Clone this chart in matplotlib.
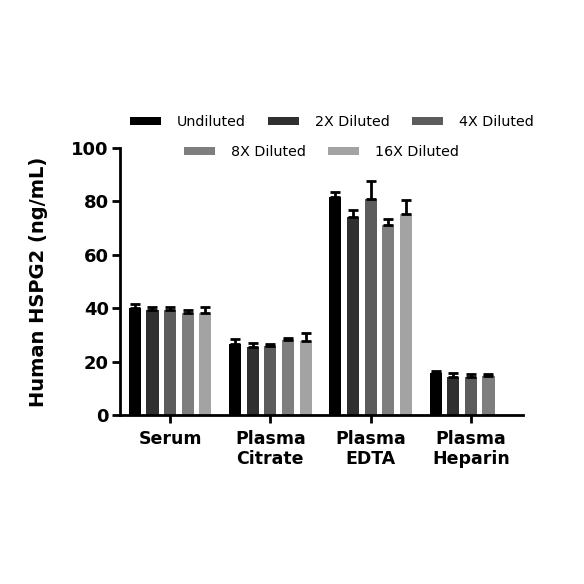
import numpy as np
import matplotlib
matplotlib.use("Agg")
import matplotlib.pyplot as plt

# sample groups and dilution series
groups = ["Serum", "Plasma\nCitrate", "Plasma\nEDTA", "Plasma\nHeparin"]
dilutions = ["Undiluted", "2X Diluted", "4X Diluted", "8X Diluted", "16X Diluted"]
colors = ["#000000", "#303030", "#5c5c5c", "#7e7e7e", "#a3a3a3"]

# mean values (ng/mL), one list per dilution, order follows groups
undiluted = [40.1, 26.7, 81.7, 15.6]
diluted_2x = [39.3, 25.5, 74.2, 14.2]
diluted_4x = [39.3, 25.9, 80.8, 14.2]
diluted_8x = [38.4, 28.0, 71.0, 14.6]
diluted_16x = [38.2, 27.7, 75.3, np.nan]

# upper error (SD) per dilution
err_undiluted = [1.5, 1.6, 1.7, 0.9]
err_2x = [1.0, 1.6, 2.6, 1.5]
err_4x = [1.0, 0.6, 7.0, 1.3]
err_8x = [0.9, 0.7, 2.4, 0.9]
err_16x = [2.1, 3.1, 5.2, np.nan]

values = [undiluted, diluted_2x, diluted_4x, diluted_8x, diluted_16x]
errors = [err_undiluted, err_2x, err_4x, err_8x, err_16x]

plt.rcParams["font.family"] = "DejaVu Sans"

fig = plt.figure(figsize=(5.84, 5.84), dpi=100)
ax = fig.add_axes([0.2055, 0.2894, 0.69, 0.457])

x = np.arange(len(groups))
step = 0.176
width = 0.12
handles = []
for i, (vals, errs) in enumerate(zip(values, errors)):
    pos = x + (i - 2) * step
    vals = np.asarray(vals, dtype=float)
    errs = np.asarray(errs, dtype=float)
    ok = ~np.isnan(vals)
    b = ax.bar(pos[ok], vals[ok], width, color=colors[i], label=dilutions[i], zorder=2)
    ax.errorbar(pos[ok], vals[ok], yerr=[np.zeros(ok.sum()), errs[ok]], fmt="none",
                ecolor="black", elinewidth=2, capsize=3.5, capthick=2, zorder=3)
    handles.append(b)

ax.set_xlim(-0.5, 3.52)
ax.set_ylim(0, 100)
ax.set_yticks([0, 20, 40, 60, 80, 100])
ax.set_xticks(x)
ax.set_xticklabels(groups, fontsize=12.5, fontweight="bold", linespacing=1.15)
for lab in ax.get_yticklabels():
    lab.set_fontsize(13)
    lab.set_fontweight("bold")
ax.set_ylabel("Human HSPG2 (ng/mL)", fontsize=14, fontweight="bold", labelpad=17)

for side in ["top", "right"]:
    ax.spines[side].set_visible(False)
for side in ["left", "bottom"]:
    ax.spines[side].set_linewidth(2)
ax.tick_params(axis="both", width=2, length=6, direction="out", pad=2)
ax.tick_params(axis="x", pad=5)

leg_kw = dict(frameon=False, fontsize=10.3, handlelength=2.2, handleheight=0.45,
              handletextpad=1.1, columnspacing=1.55)
leg1 = fig.legend(handles[:3], dilutions[:3], ncol=3, loc="center",
                  bbox_to_anchor=(0.568, 0.791), **leg_kw)
leg2 = fig.legend(handles[3:], dilutions[3:], ncol=2, loc="center",
                  bbox_to_anchor=(0.55, 0.740), **leg_kw)

fig.savefig("out.png", dpi=100)
